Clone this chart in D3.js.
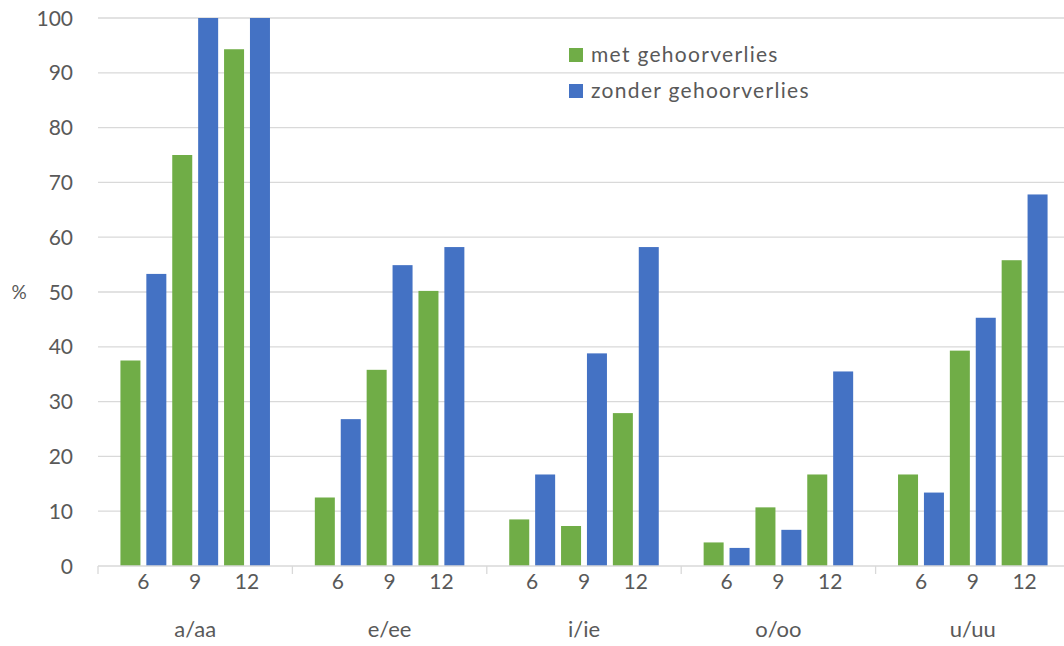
<!DOCTYPE html>
<html><head><meta charset="utf-8">
<script src="https://cdn.jsdelivr.net/npm/d3@7"></script>
<style>
html,body{margin:0;padding:0;background:#fff;}
svg text{font-family:Lato,"Open Sans",sans-serif;fill:#595959;}
</style></head>
<body>
<svg id="chart" width="1064" height="646"></svg>
<script>
const groups = ["a/aa","e/ee","i/ie","o/oo","u/uu"];
const ages = ["6","9","12"];
const seriesNames = ["met gehoorverlies","zonder gehoorverlies"];
const seriesColors = ["#70AD47","#4472C4"];
// values per group, per age: [met, zonder]
const metValues = [
  [37.5, 75.0, 94.3],
  [12.5, 35.8, 50.2],
  [8.5, 7.3, 27.9],
  [4.3, 10.7, 16.7],
  [16.7, 39.3, 55.8]
];
const zonderValues = [
  [53.3, 100, 100],
  [26.8, 54.9, 58.2],
  [16.7, 38.8, 58.2],
  [3.3, 6.6, 35.5],
  [13.4, 45.3, 67.8]
];
const yTicks = [0,10,20,30,40,50,60,70,80,90,100];

const svg = d3.select("#chart");
const left = 98, groupW = 194.4;
const x0 = d3.scaleBand().domain(groups).range([left, left + groupW*groups.length]).padding(0);
const x1 = d3.scaleBand().domain(ages).range([0, x0.bandwidth()]).paddingInner(0).paddingOuter(0.376);
const x2 = d3.scaleBand().domain([0,1]).range([0, x1.bandwidth()]).paddingInner(0.228).paddingOuter(0.114);
const y = d3.scaleLinear().domain([0,100]).range([566, 18]);

// gridlines
svg.append("g").selectAll("line").data(yTicks.filter(d=>d>0)).join("line")
  .attr("x1", left).attr("x2", 1064)
  .attr("y1", d=>y(d)).attr("y2", d=>y(d))
  .attr("stroke", "#D9D9D9").attr("stroke-width", 1.3);

// y labels
svg.append("g").selectAll("text").data(yTicks).join("text")
  .attr("x", 73).attr("y", d=>y(d)).attr("dy","0.36em")
  .attr("text-anchor","end").attr("font-size", 21)
  .text(d=>d);

svg.append("text").attr("x", 19).attr("y", 292).attr("dy","0.36em")
  .attr("text-anchor","middle").attr("font-size", 19).text("%");

// bars
const data = [];
groups.forEach((g,gi)=>{
  ages.forEach((a,ai)=>{
    data.push({g, a, s:0, v:metValues[gi][ai]});
    data.push({g, a, s:1, v:zonderValues[gi][ai]});
  });
});
svg.append("g").selectAll("rect").data(data).join("rect")
  .attr("x", d=>x0(d.g)+x1(d.a)+x2(d.s))
  .attr("width", x2.bandwidth())
  .attr("y", d=>y(d.v))
  .attr("height", d=>y(0)-y(d.v))
  .attr("fill", d=>seriesColors[d.s]);

// x axis line
svg.append("line").attr("x1", left).attr("x2", 1064).attr("y1", y(0)).attr("y2", y(0))
  .attr("stroke","#D9D9D9").attr("stroke-width",1.3);
// group ticks
svg.append("g").selectAll("line").data(groups).join("line")
  .attr("x1", d=>x0(d)).attr("x2", d=>x0(d))
  .attr("y1", y(0)).attr("y2", y(0)+8)
  .attr("stroke","#D9D9D9").attr("stroke-width",1.3);

// age labels
const ageLabels = [];
groups.forEach(g=>ages.forEach(a=>ageLabels.push({g,a})));
svg.append("g").selectAll("text").data(ageLabels).join("text")
  .attr("x", d=>x0(d.g)+x1(d.a)+x1.bandwidth()/2)
  .attr("y", 589).attr("text-anchor","middle").attr("font-size", 21)
  .text(d=>d.a);

// group labels
svg.append("g").selectAll("text").data(groups).join("text")
  .attr("x", d=>x0(d)+x0.bandwidth()/2)
  .attr("y", 637).attr("text-anchor","middle").attr("font-size", 22)
  .text(d=>d);

// legend
const leg = svg.append("g").selectAll("g").data(seriesNames).join("g")
  .attr("transform",(d,i)=>`translate(569,${48 + i*36})`);
leg.append("rect").attr("width",14).attr("height",14).attr("fill",(d,i)=>seriesColors[i]);
leg.append("text").attr("x",22).attr("y",14).attr("font-size",21)
  .attr("letter-spacing",1.3).text(d=>d);
</script>
</body></html>
